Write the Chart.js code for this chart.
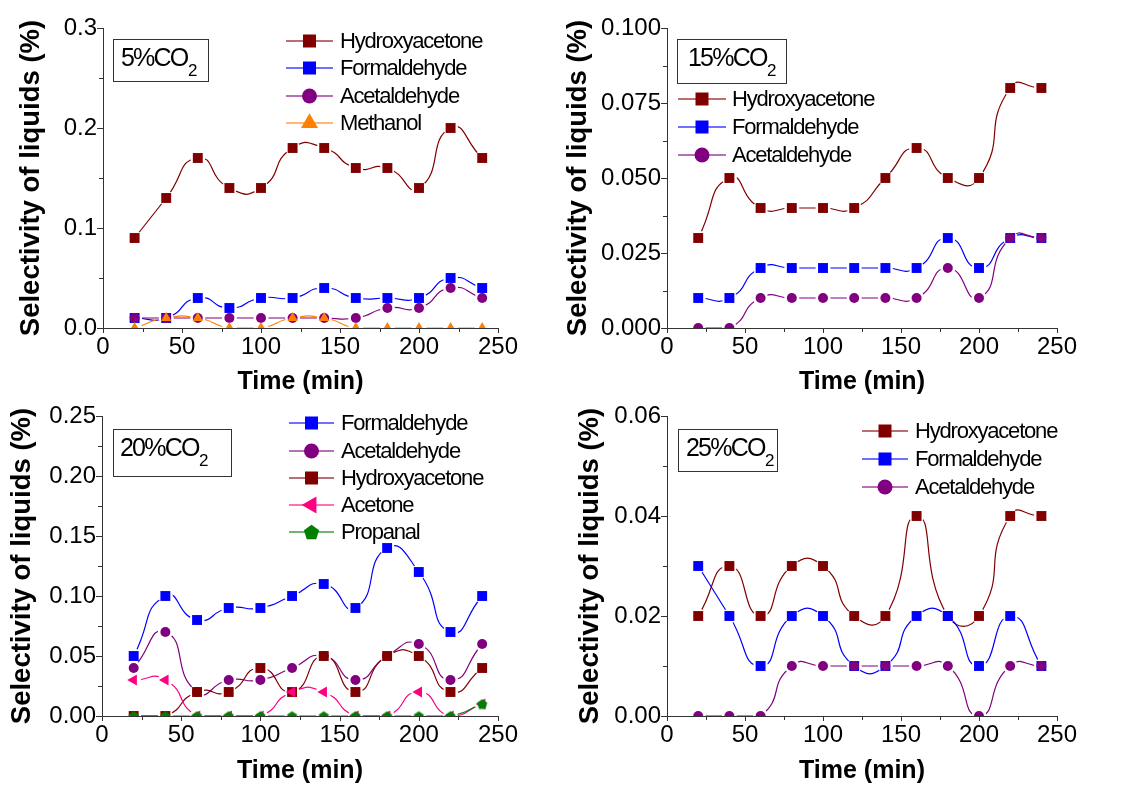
<!DOCTYPE html>
<html>
<head>
<meta charset="utf-8">
<script src="https://cdn.jsdelivr.net/npm/chart.js@4.4.0/dist/chart.umd.min.js"></script>
<style>
  html, body { margin: 0; padding: 0; background: #fff; width: 1129px; height: 789px; overflow: hidden; }
  canvas { position: absolute; }
</style>
</head>
<body>
<canvas id="p1"></canvas>
<canvas id="p2"></canvas>
<canvas id="p3"></canvas>
<canvas id="p4"></canvas>
<script>
// ---- data -------------------------------------------------------------
const timeMin = [20, 40, 60, 80, 100, 120, 140, 160, 180, 200, 220, 240];
const xTickLabels = ['0', '50', '100', '150', '200', '250'];

// 5% CO2
const co2_5_hydroxyacetone = [0.09, 0.13, 0.17, 0.14, 0.14, 0.18, 0.18, 0.16, 0.16, 0.14, 0.20, 0.17];
const co2_5_formaldehyde   = [0.01, 0.01, 0.03, 0.02, 0.03, 0.03, 0.04, 0.03, 0.03, 0.03, 0.05, 0.04];
const co2_5_acetaldehyde   = [0.01, 0.01, 0.01, 0.01, 0.01, 0.01, 0.01, 0.01, 0.02, 0.02, 0.04, 0.03];
const co2_5_methanol       = [0.00, 0.01, 0.01, 0.00, 0.00, 0.01, 0.01, 0.00, 0.00, 0.00, 0.00, 0.00];
const yTicks_5 = ['0.0', '0.1', '0.2', '0.3'];

// 15% CO2
const co2_15_hydroxyacetone = [0.03, 0.05, 0.04, 0.04, 0.04, 0.04, 0.05, 0.06, 0.05, 0.05, 0.08, 0.08];
const co2_15_formaldehyde   = [0.01, 0.01, 0.02, 0.02, 0.02, 0.02, 0.02, 0.02, 0.03, 0.02, 0.03, 0.03];
const co2_15_acetaldehyde   = [0.00, 0.00, 0.01, 0.01, 0.01, 0.01, 0.01, 0.01, 0.02, 0.01, 0.03, 0.03];
const yTicks_15 = ['0.000', '0.025', '0.050', '0.075', '0.100'];

// 20% CO2
const co2_20_formaldehyde   = [0.05, 0.10, 0.08, 0.09, 0.09, 0.10, 0.11, 0.09, 0.14, 0.12, 0.07, 0.10];
const co2_20_acetaldehyde   = [0.04, 0.07, 0.02, 0.03, 0.03, 0.04, 0.05, 0.03, 0.05, 0.06, 0.03, 0.06];
const co2_20_hydroxyacetone = [0.00, 0.00, 0.02, 0.02, 0.04, 0.02, 0.05, 0.02, 0.05, 0.05, 0.02, 0.04];
const co2_20_acetone        = [0.03, 0.03, 0.00, 0.00, 0.00, 0.02, 0.02, 0.00, 0.00, 0.02, 0.00, 0.01];
const co2_20_propanal       = [0.00, 0.00, 0.00, 0.00, 0.00, 0.00, 0.00, 0.00, 0.00, 0.00, 0.00, 0.01];
const yTicks_20 = ['0.00', '0.05', '0.10', '0.15', '0.20', '0.25'];

// 25% CO2
const co2_25_hydroxyacetone = [0.02, 0.03, 0.02, 0.03, 0.03, 0.02, 0.02, 0.04, 0.02, 0.02, 0.04, 0.04];
const co2_25_formaldehyde   = [0.03, 0.02, 0.01, 0.02, 0.02, 0.01, 0.01, 0.02, 0.02, 0.01, 0.02, 0.01];
const co2_25_acetaldehyde   = [0.00, 0.00, 0.00, 0.01, 0.01, 0.01, 0.01, 0.01, 0.01, 0.00, 0.01, 0.01];
const yTicks_25 = ['0.00', '0.02', '0.04', '0.06'];

// ---- styling ----------------------------------------------------------
const FONT = "'Liberation Sans', Arial, Helvetica, sans-serif";
const COLORS = {
  Hydroxyacetone: '#800000',
  Formaldehyde: '#0000ff',
  Acetaldehyde: '#800080',
  Methanol: '#ff8000',
  Acetone: '#ff0080',
  Propanal: '#008000'
};

function pentagonPath(g, cx, cy, r) {
  g.beginPath();
  for (let k = 0; k < 5; k++) {
    const a = -Math.PI / 2 + k * 2 * Math.PI / 5;
    const px = cx + r * Math.cos(a), py = cy + r * Math.sin(a);
    if (k === 0) g.moveTo(px, py); else g.lineTo(px, py);
  }
  g.closePath();
}

function pentagonImage(r, color) {
  const s = Math.ceil(r * 2 + 2);
  const c = document.createElement('canvas');
  c.width = s; c.height = s;
  const g = c.getContext('2d');
  g.fillStyle = color;
  pentagonPath(g, s / 2, s / 2 + r * 0.1, r);
  g.fill();
  return c;
}

function pointStyleFor(kind, color) {
  switch (kind) {
    case 'square':    return { pointStyle: 'rect', pointRadius: 7, pointRotation: 0 };
    case 'circle':    return { pointStyle: 'circle', pointRadius: 5, pointRotation: 0 };
    case 'triangle':  return { pointStyle: 'triangle', pointRadius: 6, pointRotation: 0 };
    case 'ltriangle': return { pointStyle: 'triangle', pointRadius: 6.4, pointRotation: -90 };
    case 'pentagon':  return { pointStyle: pentagonImage(5.4, color), pointRadius: 5.4, pointRotation: 0 };
  }
}

// legend symbol drawn by hand (line with marker in the middle)
function drawLegendMarker(g, kind, x, y, color) {
  g.fillStyle = color;
  g.beginPath();
  if (kind === 'square') {
    g.rect(x - 6.5, y - 6.5, 13, 13);
  } else if (kind === 'circle') {
    g.arc(x, y, 7.5, 0, Math.PI * 2);
  } else if (kind === 'triangle') {
    const s = 17, r = s / Math.sqrt(3);
    g.moveTo(x, y - r); g.lineTo(x + s / 2, y + r / 2); g.lineTo(x - s / 2, y + r / 2); g.closePath();
  } else if (kind === 'ltriangle') {
    const s = 17, r = s / Math.sqrt(3);
    g.moveTo(x - r, y); g.lineTo(x + r / 2, y - s / 2); g.lineTo(x + r / 2, y + s / 2); g.closePath();
  } else if (kind === 'pentagon') {
    pentagonPath(g, x, y + 0.8, 8);
  }
  g.fill();
}

// ---- panels -----------------------------------------------------------
const panels = [
  {
    id: 'p1', left: 0, top: 0, w: 565, h: 400,
    area: { l: 103, r: 498, t: 28, b: 328 },
    yTicks: yTicks_5, yTitlePad: 18,
    tag: { text: '5%CO', x: 113, y: 39, w: 95, h: 42, dx: 8 },
    legend: { x0: 286, x1: 333, tx: 340, rows: [41, 68, 96, 123] },
    series: [
      { name: 'Hydroxyacetone', values: co2_5_hydroxyacetone, marker: 'square' },
      { name: 'Formaldehyde', values: co2_5_formaldehyde, marker: 'square' },
      { name: 'Acetaldehyde', values: co2_5_acetaldehyde, marker: 'circle' },
      { name: 'Methanol', values: co2_5_methanol, marker: 'triangle' }
    ]
  },
  {
    id: 'p2', left: 564, top: 0, w: 565, h: 400,
    area: { l: 103, r: 493, t: 28, b: 328 },
    yTicks: yTicks_15, yTitlePad: 1,
    tag: { text: '15%CO', x: 113, y: 39, w: 109, h: 44, dx: 11 },
    legend: { x0: 114, x1: 162, tx: 168, rows: [99, 127, 155] },
    series: [
      { name: 'Hydroxyacetone', values: co2_15_hydroxyacetone, marker: 'square' },
      { name: 'Formaldehyde', values: co2_15_formaldehyde, marker: 'square' },
      { name: 'Acetaldehyde', values: co2_15_acetaldehyde, marker: 'circle' }
    ]
  },
  {
    id: 'p3', left: 0, top: 389, w: 565, h: 400,
    area: { l: 102, r: 498, t: 27, b: 327 },
    yTicks: yTicks_20, yTitlePad: 9,
    tag: { text: '20%CO', x: 113, y: 40, w: 118, h: 47, dx: 7 },
    legend: { x0: 289, x1: 334, tx: 341, rows: [34, 62, 89, 116, 143] },
    series: [
      { name: 'Formaldehyde', values: co2_20_formaldehyde, marker: 'square' },
      { name: 'Acetaldehyde', values: co2_20_acetaldehyde, marker: 'circle' },
      { name: 'Hydroxyacetone', values: co2_20_hydroxyacetone, marker: 'square' },
      { name: 'Acetone', values: co2_20_acetone, marker: 'ltriangle' },
      { name: 'Propanal', values: co2_20_propanal, marker: 'pentagon' }
    ]
  },
  {
    id: 'p4', left: 564, top: 389, w: 565, h: 400,
    area: { l: 103, r: 493, t: 27, b: 327 },
    yTicks: yTicks_25, yTitlePad: 13,
    tag: { text: '25%CO', x: 114, y: 40, w: 99, h: 42, dx: 8 },
    legend: { x0: 298, x1: 344, tx: 351, rows: [42, 70, 98] },
    series: [
      { name: 'Hydroxyacetone', values: co2_25_hydroxyacetone, marker: 'square' },
      { name: 'Formaldehyde', values: co2_25_formaldehyde, marker: 'square' },
      { name: 'Acetaldehyde', values: co2_25_acetaldehyde, marker: 'circle' }
    ]
  }
];

// lines stop short of their own markers (spline with gaps at symbols)
const GAP_R = 7.5;
const markerGaps = {
  id: 'markerGaps',
  beforeDatasetDraw(chart, args) {
    const ds = chart.data.datasets[args.index];
    if (!ds.gapped) return;
    const ctx = chart.ctx;
    ctx.save();
    ctx.beginPath();
    ctx.rect(0, 0, chart.width, chart.height);
    args.meta.data.forEach(pt => {
      ctx.moveTo(pt.x + GAP_R, pt.y);
      ctx.arc(pt.x, pt.y, GAP_R, 0, Math.PI * 2);
    });
    ctx.clip('evenodd');
  },
  afterDatasetDraw(chart, args) {
    if (chart.data.datasets[args.index].gapped) chart.ctx.restore();
  }
};

// outward major / minor tick marks on both axes
const tickMarks = {
  id: 'tickMarks',
  afterDraw(chart) {
    const ctx = chart.ctx, xs = chart.scales.x, ys = chart.scales.y, a = chart.chartArea;
    ctx.save();
    ctx.strokeStyle = '#333';
    ctx.lineWidth = 1;
    ctx.beginPath();
    const xv = xs.ticks.map(t => t.value);
    xv.forEach((v, i) => {
      const px = Math.round(xs.getPixelForValue(v)) + 0.5;
      ctx.moveTo(px, a.bottom); ctx.lineTo(px, a.bottom + 5);
      if (i < xv.length - 1) {
        const mx = Math.round(xs.getPixelForValue((v + xv[i + 1]) / 2)) + 0.5;
        ctx.moveTo(mx, a.bottom); ctx.lineTo(mx, a.bottom + 4);
      }
    });
    const yv = ys.ticks.map(t => t.value);
    yv.forEach((v, i) => {
      const py = Math.round(ys.getPixelForValue(v)) + 0.5;
      ctx.moveTo(a.left, py); ctx.lineTo(a.left - 6, py);
      if (i < yv.length - 1) {
        const my = Math.round(ys.getPixelForValue((v + yv[i + 1]) / 2)) + 0.5;
        ctx.moveTo(a.left, my); ctx.lineTo(a.left - 4, my);
      }
    });
    ctx.stroke();
    ctx.restore();
  }
};

// legend block and condition tag inside the plot
function decorations(p) {
  return {
    id: 'decor_' + p.id,
    afterDraw(chart) {
      const ctx = chart.ctx;
      ctx.save();
      // tag box with CO2 content
      const t = p.tag;
      ctx.strokeStyle = '#333';
      ctx.lineWidth = 1;
      ctx.strokeRect(t.x + 0.5, t.y + 0.5, t.w, t.h);
      ctx.fillStyle = '#000';
      ctx.textBaseline = 'alphabetic';
      ctx.textAlign = 'left';
      ctx.letterSpacing = '-1.8px';
      ctx.font = '25px ' + FONT;
      const tx = t.x + t.dx, ty = t.y + 27;
      ctx.fillText(t.text, tx, ty);
      const tw = ctx.measureText(t.text).width;
      ctx.font = '17px ' + FONT;
      ctx.letterSpacing = '0px';
      ctx.fillText('2', tx + tw + 0.5, ty + 10);
      // legend
      const L = p.legend;
      ctx.font = '22px ' + FONT;
      ctx.letterSpacing = '-1.2px';
      ctx.textBaseline = 'middle';
      p.series.forEach((s, i) => {
        const y = L.rows[i], c = COLORS[s.name];
        ctx.strokeStyle = c;
        ctx.globalAlpha = 0.75;
        ctx.lineWidth = 1.5;
        ctx.beginPath();
        ctx.moveTo(L.x0, y); ctx.lineTo(L.x1, y);
        ctx.stroke();
        ctx.globalAlpha = 1;
        drawLegendMarker(ctx, s.marker, (L.x0 + L.x1) / 2, y, c);
        ctx.fillStyle = '#000';
        ctx.fillText(s.name, L.tx, y + 1);
      });
      ctx.restore();
    }
  };
}

function buildDatasets(p) {
  const lines = [], marks = [];
  p.series.forEach((s, i) => {
    const c = COLORS[s.name];
    const pts = timeMin.map((t, k) => ({ x: t, y: s.values[k] }));
    lines.push({
      label: s.name,
      data: pts,
      borderColor: c,
      borderWidth: 1.2,
      pointRadius: 0,
      tension: 0.6,
      fill: false,
      clip: 0,
      gapped: true,
      order: 200 - i
    });
    marks.push(Object.assign({
      label: s.name + ' markers',
      data: pts,
      showLine: false,
      pointBackgroundColor: c,
      pointBorderWidth: 0,
      pointBorderColor: c,
      clip: 0,
      order: 100 - i
    }, pointStyleFor(s.marker, c)));
  });
  return lines.concat(marks);
}

panels.forEach(p => {
  const cv = document.getElementById(p.id);
  cv.width = p.w; cv.height = p.h;
  cv.style.left = p.left + 'px';
  cv.style.top = p.top + 'px';
  cv.style.width = p.w + 'px';
  cv.style.height = p.h + 'px';
  const yMin = parseFloat(p.yTicks[0]), yMax = parseFloat(p.yTicks[p.yTicks.length - 1]);
  new Chart(cv, {
    type: 'line',
    data: { datasets: buildDatasets(p) },
    options: {
      responsive: false,
      animation: false,
      devicePixelRatio: 1,
      events: [],
      layout: { padding: { top: p.area.t, right: p.w - p.area.r, bottom: 0, left: 0 } },
      plugins: { legend: { display: false }, tooltip: { enabled: false }, title: { display: false } },
      scales: {
        x: {
          type: 'linear', min: 0, max: 250,
          afterBuildTicks: s => { s.ticks = xTickLabels.map(v => ({ value: parseFloat(v) })); },
          afterFit: s => { s.height = p.h - p.area.b; },
          ticks: {
            callback: (v, i) => xTickLabels[i],
            font: { family: FONT, size: 24 }, color: '#000',
            padding: 4.5, autoSkip: false, maxRotation: 0
          },
          grid: { drawOnChartArea: false, drawTicks: false, tickLength: 0 },
          border: { display: true, color: '#333', width: 1 },
          title: {
            display: true, text: 'Time (min)', color: '#000',
            font: { family: FONT, size: 25, weight: 'bold', lineHeight: 1 },
            padding: { top: 0, bottom: 5 }
          }
        },
        y: {
          type: 'linear', min: yMin, max: yMax,
          afterBuildTicks: s => { s.ticks = p.yTicks.map(v => ({ value: parseFloat(v) })); },
          afterFit: s => { s.width = p.area.l; },
          ticks: {
            callback: (v, i) => p.yTicks[i],
            font: { family: FONT, size: 24 }, color: '#000',
            padding: 6, autoSkip: false
          },
          grid: { drawOnChartArea: false, drawTicks: false, tickLength: 0 },
          border: { display: true, color: '#333', width: 1 },
          title: {
            display: true, text: 'Selectivity of liquids (%)', color: '#000',
            font: { family: FONT, size: 27.5, weight: 'bold', lineHeight: 1 },
            padding: { top: p.yTitlePad, bottom: 0 }
          }
        }
      }
    },
    plugins: [markerGaps, tickMarks, decorations(p)]
  });
});
</script>
</body>
</html>
